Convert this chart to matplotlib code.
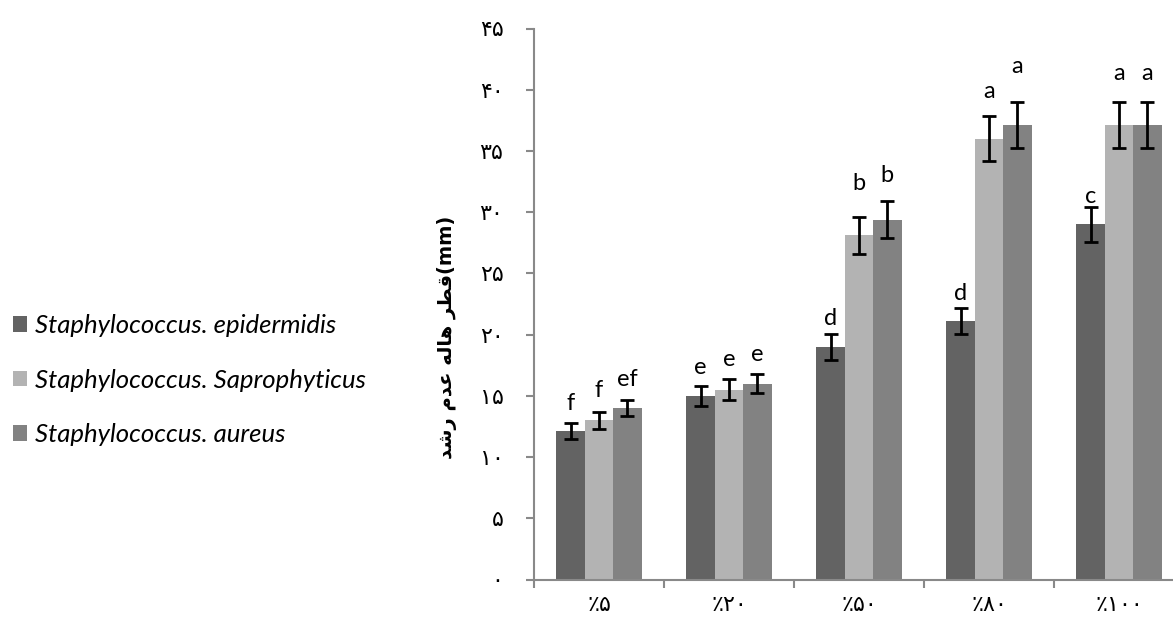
import matplotlib
matplotlib.use("Agg")
import matplotlib.pyplot as plt
from matplotlib.patches import Patch
import numpy as np

# ---------------- data ----------------
categories = ["٪۵", "٪۲۰", "٪۵۰", "٪۸۰", "٪۱۰۰"]
series_names = ["Staphylococcus. epidermidis",
                "Staphylococcus. Saprophyticus",
                "Staphylococcus. aureus"]
epidermidis = [12.1, 15.0, 19.0, 21.1, 29.0]
saprophyticus = [13.0, 15.5, 28.1, 36.0, 37.1]
aureus = [14.0, 16.0, 29.4, 37.1, 37.1]
err_epidermidis = [0.65, 0.80, 1.07, 1.06, 1.44]
err_saprophyticus = [0.67, 0.84, 1.48, 1.84, 1.88]
err_aureus = [0.68, 0.79, 1.52, 1.88, 1.88]
letters_epidermidis = ["f", "e", "d", "d", "c"]
letters_saprophyticus = ["f", "e", "b", "a", "a"]
letters_aureus = ["ef", "e", "b", "a", "a"]
y_ticks = [0, 5, 10, 15, 20, 25, 30, 35, 40, 45]
y_tick_labels = ["۰", "۵", "۱۰", "۱۵", "۲۰", "۲۵", "۳۰", "۳۵", "۴۰", "۴۵"]
y_label = "قطر هاله عدم رشد"
y_unit = "(mm)"

# style / layout (pixels above error-bar tops for letters)
letter_gap_px = [[13, 12, 9, 8, 4],
                 [15, 13, 27, 18, 22],
                 [14, 13, 19, 29, 22]]
colors = ["#636363", "#b3b3b3", "#828282"]

# ---------- minimal Arabic shaping (presentation forms) ----------
FORMS = {
    'ق': ('\uFED5', '\uFED6', '\uFED7', '\uFED8'),
    'ط': ('\uFEC1', '\uFEC2', '\uFEC3', '\uFEC4'),
    'ر': ('\uFEAD', '\uFEAE', None, None),
    'ه': ('\uFEE9', '\uFEEA', '\uFEEB', '\uFEEC'),
    'ا': ('\uFE8D', '\uFE8E', None, None),
    'ل': ('\uFEDD', '\uFEDE', '\uFEDF', '\uFEE0'),
    'ع': ('\uFEC9', '\uFECA', '\uFECB', '\uFECC'),
    'د': ('\uFEA9', '\uFEAA', None, None),
    'م': ('\uFEE1', '\uFEE2', '\uFEE3', '\uFEE4'),
    'ش': ('\uFEB5', '\uFEB6', '\uFEB7', '\uFEB8'),
}


def shape(text):
    out = []
    for i, c in enumerate(text):
        if c not in FORMS:
            out.append(c)
            continue
        prev = text[i - 1] if i > 0 else None
        nxt = text[i + 1] if i + 1 < len(text) else None
        pj = prev in FORMS and FORMS[prev][2] is not None
        nj = nxt in FORMS and FORMS[c][2] is not None
        f = FORMS[c]
        if pj and nj:
            out.append(f[3])
        elif pj:
            out.append(f[1])
        elif nj:
            out.append(f[2])
        else:
            out.append(f[0])
    return "".join(out)[::-1]


# ---------------- figure ----------------
W, H = 1173, 635
fig = plt.figure(figsize=(W / 100, H / 100), dpi=100)
ax_left, ax_right = 534 / W, 1184 / W
ax_bottom, ax_top = (H - 579.5) / H, (H - 28.5) / H
ax = fig.add_axes([ax_left, ax_bottom, ax_right - ax_left, ax_top - ax_bottom])

x = np.arange(len(categories))
bw = 0.218
all_vals = [epidermidis, saprophyticus, aureus]
all_errs = [err_epidermidis, err_saprophyticus, err_aureus]
all_letters = [letters_epidermidis, letters_saprophyticus, letters_aureus]
for k in range(3):
    xs = x + (k - 1) * bw
    ax.bar(xs, all_vals[k], width=bw, color=colors[k], edgecolor="none", zorder=2)
    ax.errorbar(xs, all_vals[k], yerr=all_errs[k], fmt="none", ecolor="black",
                elinewidth=2.0, capsize=5, capthick=2.0, zorder=3)
    for i in range(len(categories)):
        top = all_vals[k][i] + all_errs[k][i]
        ax.annotate(all_letters[k][i], (xs[i], top),
                    xytext=(0, letter_gap_px[k][i] * 0.72), textcoords="offset points",
                    ha="center", va="baseline", fontsize=17, family="Lato",
                    color="black")

ax.set_xlim(-0.5, len(categories) - 0.5)
ax.set_ylim(0, 45)

spine_c = "#898989"
for s in ["top", "right"]:
    ax.spines[s].set_visible(False)
for s in ["left", "bottom"]:
    ax.spines[s].set_color(spine_c)
    ax.spines[s].set_linewidth(1.5)

ax.set_yticks(y_ticks)
ax.set_yticklabels(y_tick_labels, family="DejaVu Sans", fontsize=16)
ax.tick_params(axis="y", direction="out", length=6, width=1.5, color=spine_c, pad=16)

ax.set_xticks(np.arange(len(categories) + 1) - 0.5)
ax.set_xticklabels([])
ax.tick_params(axis="x", which="major", direction="out", length=6, width=1.5, color=spine_c)
ax.set_xticks(x, minor=True)
ax.set_xticklabels(categories, minor=True, family="DejaVu Sans", fontsize=16)
ax.tick_params(axis="x", which="minor", length=0, pad=11)

ax.set_ylabel(shape(y_label) + y_unit, family="DejaVu Sans", fontsize=14, fontweight="bold")
ax.yaxis.set_label_coords(-0.118, 0.44)

handles = [Patch(facecolor=c, edgecolor="none") for c in colors]
leg = fig.legend(handles, series_names, loc="upper left",
                 bbox_to_anchor=(13 / W, 1 - 314 / H), frameon=False,
                 prop={"family": "Lato", "style": "italic", "size": 18.5},
                 handlelength=0.55, handleheight=0.55, handletextpad=0.3,
                 labelspacing=1.23, borderpad=0, borderaxespad=0)

fig.savefig("out.png", dpi=100)
